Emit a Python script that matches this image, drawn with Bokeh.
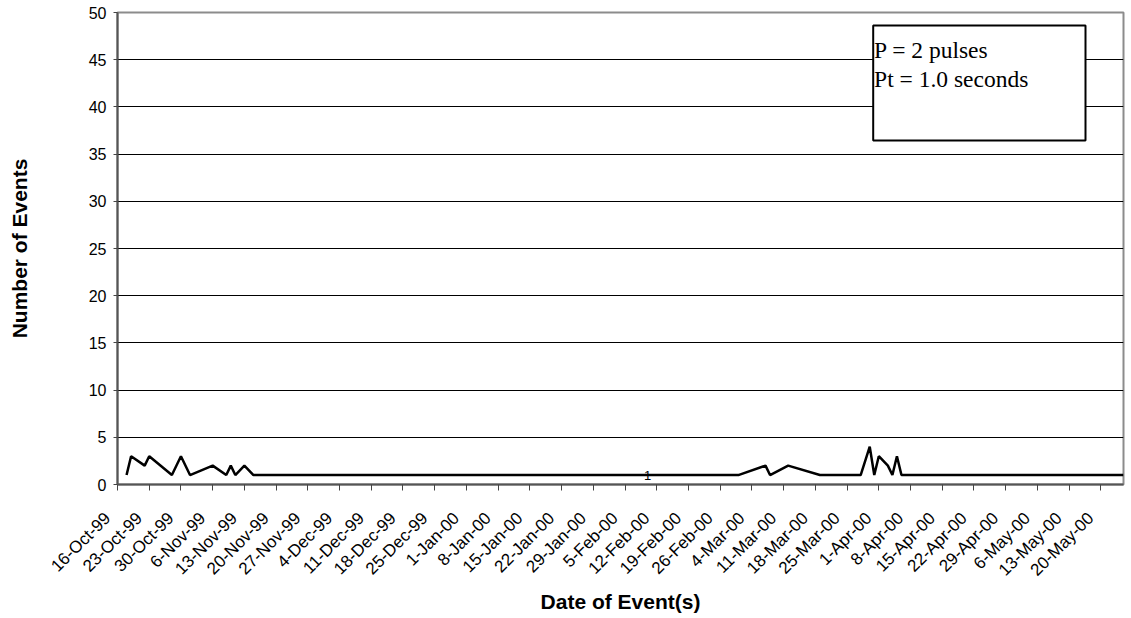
import math
import pandas as pd
from bokeh.plotting import figure
from bokeh.models import FixedTicker, BoxAnnotation, Label, Range1d
from bokeh.embed import file_html
from bokeh.resources import INLINE
from bokeh.core.properties import value

# ---- data ----
axis_start = "1999-10-16"
axis_end = "2000-05-25"
event_dates = ["1999-10-18", "1999-10-19", "1999-10-22", "1999-10-23", "1999-10-28",
               "1999-10-30", "1999-11-01", "1999-11-06", "1999-11-09", "1999-11-10",
               "1999-11-11", "1999-11-13", "1999-11-15", "1999-12-15", "2000-01-15",
               "2000-02-10", "2000-03-01", "2000-03-07", "2000-03-08", "2000-03-12",
               "2000-03-19", "2000-03-28", "2000-03-30", "2000-03-31", "2000-04-01",
               "2000-04-03", "2000-04-04", "2000-04-05", "2000-04-06", "2000-05-25"]
event_counts = [1, 3, 2, 3, 1,
                3, 1, 2, 1, 2,
                1, 2, 1, 1, 1,
                1, 1, 2, 1, 2,
                1, 1, 4, 1, 3,
                2, 1, 3, 1, 1]
data_label_dates = ["2000-02-10"]
data_label_values = [1]
tick_labels = ["16-Oct-99", "23-Oct-99", "30-Oct-99", "6-Nov-99", "13-Nov-99", "20-Nov-99",
               "27-Nov-99", "4-Dec-99", "11-Dec-99", "18-Dec-99", "25-Dec-99", "1-Jan-00",
               "8-Jan-00", "15-Jan-00", "22-Jan-00", "29-Jan-00", "5-Feb-00", "12-Feb-00",
               "19-Feb-00", "26-Feb-00", "4-Mar-00", "11-Mar-00", "18-Mar-00", "25-Mar-00",
               "1-Apr-00", "8-Apr-00", "15-Apr-00", "22-Apr-00", "29-Apr-00", "6-May-00",
               "13-May-00", "20-May-00"]
y_ticks = [0, 5, 10, 15, 20, 25, 30, 35, 40, 45, 50]
note_lines = ["P = 2 pulses", "Pt = 1.0 seconds"]

# ---- convert dates to day offsets ----
t0 = pd.Timestamp(axis_start)
def days(lst):
    return [int((pd.Timestamp(d) - t0).days) for d in lst]

x_events = days(event_dates)
x_labels = days(data_label_dates)
tick_pos = [int((pd.to_datetime(s, format="%d-%b-%y") - t0).days) for s in tick_labels]
total_days = int((pd.Timestamp(axis_end) - t0).days)

FONT = "Liberation Sans"
PAD = "\u00a0" * 3  # small gap between label end and tick, as in the original

p = figure(width=1131, height=618, output_backend="svg", toolbar_location=None,
           x_range=Range1d(0, total_days), y_range=Range1d(0, 50),
           min_border_left=117, min_border_right=8, min_border_top=12, min_border_bottom=134)
p.background_fill_color = "white"
p.border_fill_color = "white"
p.outline_line_color = "#8c8c8c"
p.outline_line_width = 2

# axes
p.xaxis.ticker = FixedTicker(ticks=tick_pos)
p.xaxis.major_label_overrides = {tp: lab + PAD for tp, lab in zip(tick_pos, tick_labels)}
p.xaxis.major_label_orientation = math.pi / 4
p.xaxis.minor_tick_line_color = None
p.xaxis.major_tick_in = 0
p.xaxis.major_tick_out = 6
p.xaxis.major_tick_line_color = "#444444"
p.xaxis.axis_line_color = "#555555"
p.xaxis.axis_line_width = 2
p.xaxis.major_label_text_font = FONT
p.xaxis.major_label_text_font_size = "17px"
p.xaxis.major_label_text_color = "black"
p.xaxis.major_label_standoff = 15
p.xaxis.axis_label = "Date of Event(s)"
p.xaxis.axis_label_text_font = FONT
p.xaxis.axis_label_text_font_size = "21px"
p.xaxis.axis_label_text_font_style = "bold"
p.xaxis.axis_label_text_color = "black"
p.xaxis.axis_label_standoff = 1

p.yaxis.ticker = FixedTicker(ticks=y_ticks)
p.yaxis.minor_tick_line_color = None
p.yaxis.major_tick_in = 0
p.yaxis.major_tick_out = 4
p.yaxis.major_tick_line_color = "#444444"
p.yaxis.axis_line_color = "#555555"
p.yaxis.axis_line_width = 2
p.yaxis.major_label_text_font = FONT
p.yaxis.major_label_text_font_size = "16px"
p.yaxis.major_label_text_color = "black"
p.yaxis.major_label_standoff = 7
p.yaxis.axis_label = "Number of Events"
p.yaxis.axis_label_text_font = FONT
p.yaxis.axis_label_text_font_size = "21px"
p.yaxis.axis_label_text_font_style = "bold"
p.yaxis.axis_label_text_color = "black"
p.yaxis.axis_label_standoff = 55

p.xgrid.grid_line_color = None
p.ygrid.ticker = FixedTicker(ticks=y_ticks)
p.ygrid.grid_line_color = "black"
p.ygrid.grid_line_width = 1

# data
p.line(x_events, event_counts, line_color="black", line_width=2.5)
p.text(x=x_labels, y=data_label_values, text=[str(v) for v in data_label_values],
       text_font=value(FONT), text_font_size="13px", text_color="black",
       text_align="center", text_baseline="middle")

# note box (placed relative to the plot area)
frame_w = 1006.0
frame_h = 472.0
px_day = frame_w / total_days
px_unit = frame_h / 50
bx_l = 755.7 / px_day
bx_r = 968 / px_day
bx_t = (472 - 13) / px_unit
bx_b = (472 - 128) / px_unit
p.add_layout(BoxAnnotation(left=bx_l, right=bx_r, top=bx_t, bottom=bx_b,
                           fill_color="white", fill_alpha=1.0,
                           line_color="black", line_alpha=1.0, line_width=2,
                           level="annotation"))
for i, line in enumerate(note_lines):
    p.add_layout(Label(x=bx_l + 0.2, y=(472 - 37.3 - 29.4 * i) / px_unit, text=line,
                       text_font="Liberation Serif", text_font_size="23.5px",
                       text_color="black", text_align="left", text_baseline="alphabetic"))

open("out.html", "w").write(file_html(p, INLINE))
